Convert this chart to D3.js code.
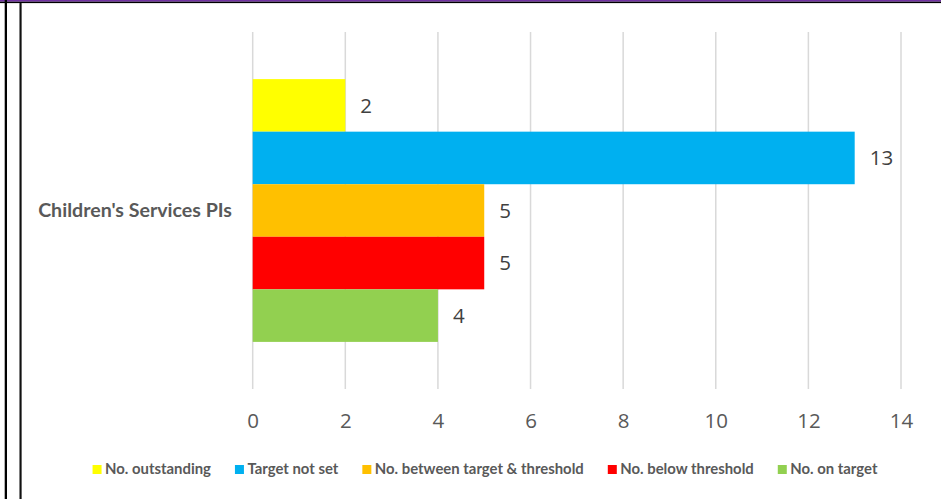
<!DOCTYPE html>
<html>
<head>
<meta charset="utf-8">
<script src="https://cdn.jsdelivr.net/npm/d3@7/dist/d3.min.js"></script>
<style>
  html, body { margin: 0; padding: 0; background: #fff; }
  svg { display: block; }
</style>
</head>
<body>
<svg id="chart" width="941" height="499"></svg>
<script>
// ---- data ----
const categories = ["Children's Services PIs"];
const seriesNames = ["No. outstanding", "Target not set", "No. between target & threshold", "No. below threshold", "No. on target"];
const seriesValues = [2, 13, 5, 5, 4];
const seriesColors = ["#FFFF00", "#00B0F0", "#FFC000", "#FF0000", "#92D050"];
const xTicks = [0, 2, 4, 6, 8, 10, 12, 14];

const W = 941, H = 499;
const svg = d3.select("#chart");

// frame lines
svg.append("rect").attr("x", 0).attr("y", 0).attr("width", W).attr("height", 1.7).attr("fill", "#7030A0");
svg.append("rect").attr("x", 0).attr("y", 1.7).attr("width", W).attr("height", 1.4).attr("fill", "#000");
svg.append("rect").attr("x", 4.7).attr("y", 0).attr("width", 2.3).attr("height", H).attr("fill", "#000");
svg.append("rect").attr("x", 19).attr("y", 3).attr("width", 3).attr("height", H).attr("fill", "#808080");
svg.append("rect").attr("x", 20).attr("y", 3).attr("width", 1.2).attr("height", H).attr("fill", "#111");

const plot = { left: 252.7, right: 901, top: 32, bottom: 389 };

const x = d3.scaleLinear().domain([0, 14]).range([plot.left, plot.right]);
const y = d3.scaleBand().domain(categories).range([plot.top, plot.bottom]).paddingInner(0.152).paddingOuter(0.152);
const ys = d3.scaleBand().domain(seriesNames).range([0, y.bandwidth()]).padding(0);

// gridlines
svg.append("g").selectAll("line").data(xTicks).join("line")
  .attr("x1", d => x(d)).attr("x2", d => x(d))
  .attr("y1", plot.top).attr("y2", plot.bottom)
  .attr("stroke", "#D9D9D9").attr("stroke-width", 1.5);

// x axis labels
const axis = d3.axisBottom(x).tickValues(xTicks).tickSize(0).tickPadding(0).tickFormat(d3.format("d"));
const ax = svg.append("g").attr("transform", `translate(0,${plot.bottom})`).call(axis);
ax.select(".domain").remove();
ax.selectAll("text")
  .attr("y", 32).attr("dy", "0.35em")
  .attr("font-family", "'Open Sans', sans-serif").attr("font-size", 20.5).attr("fill", "#595959");

// bars
const rows = seriesNames.map((s, i) => ({ cat: categories[0], name: s, value: seriesValues[i], color: seriesColors[i] }));
const g = svg.append("g");
g.selectAll("rect").data(rows).join("rect")
  .attr("x", x(0))
  .attr("y", d => y(d.cat) + ys(d.name))
  .attr("width", d => x(d.value) - x(0))
  .attr("height", ys.bandwidth())
  .attr("fill", d => d.color);

// value labels
g.selectAll("text").data(rows).join("text")
  .attr("x", d => x(d.value) + 15)
  .attr("y", d => y(d.cat) + ys(d.name) + ys.bandwidth() / 2)
  .attr("dy", "0.35em")
  .attr("font-family", "'Open Sans', sans-serif").attr("font-size", 20.5).attr("fill", "#404040")
  .text(d => d.value);

// category label
function fitText(sel, targetWidth, baseSize) {
  const node = sel.node();
  const w = node.getComputedTextLength();
  if (w > 0) sel.attr("font-size", baseSize * targetWidth / w);
}
const catLabel = svg.append("g").selectAll("text").data(categories).join("text")
  .attr("x", 232)
  .attr("y", d => y(d) + y.bandwidth() / 2 + 6)
  .attr("text-anchor", "end")
  .attr("font-family", "Lato, sans-serif").attr("font-weight", "bold")
  .attr("font-size", 20).attr("fill", "#595959")
  .text(d => d);
catLabel.each(function() { fitText(d3.select(this), 194, 20); });

// legend
const legend = svg.append("g");
const items = legend.selectAll("g").data(seriesNames).join("g");
items.append("rect").attr("width", 9).attr("height", 9).attr("y", 465)
  .attr("fill", (d, i) => seriesColors[i]);
const lt = items.append("text").attr("x", 12.5).attr("y", 474.3)
  .attr("font-family", "Lato, sans-serif").attr("font-weight", "bold")
  .attr("font-size", 15).attr("fill", "#595959").text(d => d);
// fit font size to reference width of first item
const firstW = lt.nodes()[0].getComputedTextLength();
const fs = 15 * 106 / firstW;
lt.attr("font-size", fs);
const widths = lt.nodes().map(n => n.getComputedTextLength());
const gap = 24;
const total = widths.reduce((a, w) => a + 12.5 + w, 0) + gap * (widths.length - 1);
let cx = 485 - total / 2;
items.each(function(d, i) {
  d3.select(this).attr("transform", `translate(${cx},0)`);
  cx += 12.5 + widths[i] + gap;
});
</script>
</body>
</html>
